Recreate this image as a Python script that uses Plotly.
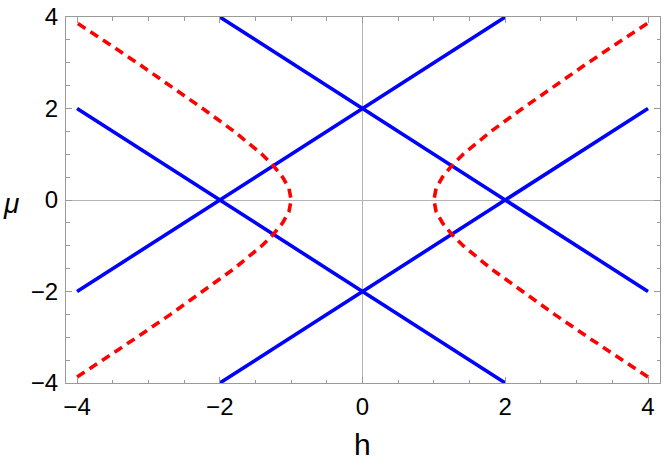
import plotly.graph_objects as go

# blue straight lines: endpoints
line_h = [[-4, 2], [-2, 4], [-4, 2], [-2, 4]]
line_mu = [[-2, 4], [-4, 2], [2, -4], [4, -2]]

# red dashed curve (right branch); left branch is mirrored in h
curve_mu = [-3.87, -3.5, -3.0, -2.5, -2.0, -1.5, -1.0, -0.75, -0.5, -0.25, 0.0,
            0.25, 0.5, 0.75, 1.0, 1.5, 2.0, 2.5, 3.0, 3.5, 3.87]
curve_h = [4.0, 3.64, 3.16, 2.69, 2.24, 1.80, 1.41, 1.25, 1.12, 1.03, 1.0,
           1.03, 1.12, 1.25, 1.41, 1.80, 2.24, 2.69, 3.16, 3.64, 4.0]

x_ticks = [-4, -2, 0, 2, 4]
x_labels = ['−4', '−2', '0', '2', '4']
y_ticks = [-4, -2, 0, 2, 4]
y_labels = ['−4', '−2', '0', '2', '4']

FONT = 'Liberation Sans, Arial'

fig = go.Figure()

for hs, ms in zip(line_h, line_mu):
    fig.add_trace(go.Scatter(x=hs, y=ms, mode='lines',
                             line=dict(color='#0000ff', width=3.6), showlegend=False))

for sign in (1, -1):
    fig.add_trace(go.Scatter(x=[sign * v for v in curve_h], y=curve_mu, mode='lines',
                             line=dict(color='#ff0000', width=3.6, dash='9px,6px'),
                             showlegend=False))

axis_common = dict(
    showline=True, linecolor='#9a9a9a', linewidth=1, mirror='allticks',
    ticks='inside', ticklen=6, tickcolor='#9a9a9a', tickwidth=1,
    minor=dict(dtick=0.5, ticks='inside', ticklen=3.5, tickcolor='#9a9a9a', showgrid=False),
    showgrid=False, zeroline=True, zerolinecolor='#b4b4b4', zerolinewidth=1,
    tickfont=dict(family=FONT, size=24, color='black'),
)

fig.update_layout(
    width=664, height=468,
    plot_bgcolor='white', paper_bgcolor='white',
    margin=dict(l=66, r=3, t=15, b=85),
    xaxis=dict(range=[-4.155, 4.168], tickvals=x_ticks, ticktext=x_labels,
               ticklabelstandoff=2, **axis_common),
    yaxis=dict(range=[-4, 4], tickvals=y_ticks, ticktext=y_labels,
               ticklabelstandoff=2, **axis_common),
    annotations=[
        dict(text='h', x=0.499, y=-0.168, xref='paper', yref='paper',
             xanchor='center', yanchor='middle',
             showarrow=False, font=dict(family=FONT, size=30, color='black')),
        dict(text='<i>μ</i>', x=-0.092, y=0.49, xref='paper', yref='paper',
             xanchor='center', yanchor='middle',
             showarrow=False, font=dict(family=FONT, size=28, color='black')),
    ],
)

fig.write_html('out.html', config={'displayModeBar': False},
               post_script="document.body.style.margin='0';")
